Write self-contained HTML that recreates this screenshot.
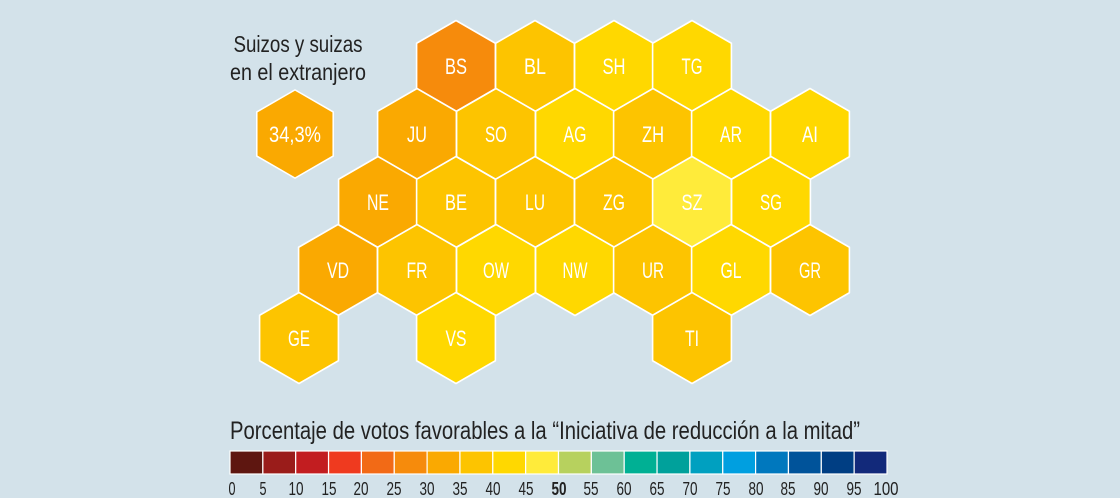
<!DOCTYPE html>
<html><head><meta charset="utf-8"><style>
html,body{margin:0;padding:0;background:#d3e2ea;}
svg{display:block;font-family:"Liberation Sans Narrow","Liberation Sans",sans-serif;}
</style></head><body>
<svg width="1120" height="498" viewBox="0 0 1120 498" xmlns="http://www.w3.org/2000/svg">
<rect width="1120" height="498" fill="#d3e2ea"/>
<defs>
<polygon id="h" points="0,-45.5 39.4,-22.75 39.4,22.75 0,45.5 -39.4,22.75 -39.4,-22.75" stroke="#fff" stroke-width="1.6" stroke-linejoin="round"/>
</defs>
<g>
<use href="#h" x="295" y="134" fill="#faa901" transform="translate(295,134) scale(0.97) translate(-295,-134)"/>
<use href="#h" x="456" y="66" fill="#f68b0c"/>
<use href="#h" x="535" y="66" fill="#fdc400"/>
<use href="#h" x="614" y="66" fill="#ffd800"/>
<use href="#h" x="692" y="66" fill="#ffd800"/>
<use href="#h" x="417" y="134" fill="#faa901"/>
<use href="#h" x="496" y="134" fill="#fdc400"/>
<use href="#h" x="575" y="134" fill="#ffd800"/>
<use href="#h" x="653" y="134" fill="#fdc400"/>
<use href="#h" x="731" y="134" fill="#ffd800"/>
<use href="#h" x="810" y="134" fill="#ffd800"/>
<use href="#h" x="378" y="202" fill="#faa901"/>
<use href="#h" x="456" y="202" fill="#fdc400"/>
<use href="#h" x="535" y="202" fill="#fdc400"/>
<use href="#h" x="614" y="202" fill="#fdc400"/>
<use href="#h" x="692" y="202" fill="#ffeb3a"/>
<use href="#h" x="771" y="202" fill="#ffd800"/>
<use href="#h" x="338" y="270" fill="#faa901"/>
<use href="#h" x="417" y="270" fill="#fdc400"/>
<use href="#h" x="496" y="270" fill="#ffd800"/>
<use href="#h" x="575" y="270" fill="#ffd800"/>
<use href="#h" x="653" y="270" fill="#fdc400"/>
<use href="#h" x="731" y="270" fill="#ffd800"/>
<use href="#h" x="810" y="270" fill="#fdc400"/>
<use href="#h" x="299" y="338" fill="#fdc400"/>
<use href="#h" x="456" y="338" fill="#ffd800"/>
<use href="#h" x="692" y="338" fill="#fdc400"/>
</g>
<g fill="#fff" font-size="22" text-anchor="middle" lengthAdjust="spacingAndGlyphs">
<text x="295" y="142" textLength="52" lengthAdjust="spacingAndGlyphs">34,3%</text>
<text x="456" y="74" textLength="22" lengthAdjust="spacingAndGlyphs">BS</text><text x="535" y="74" textLength="22" lengthAdjust="spacingAndGlyphs">BL</text><text x="614" y="74" textLength="23" lengthAdjust="spacingAndGlyphs">SH</text><text x="692" y="74" textLength="21" lengthAdjust="spacingAndGlyphs">TG</text>
<text x="417" y="142" textLength="20" lengthAdjust="spacingAndGlyphs">JU</text><text x="496" y="142" textLength="22" lengthAdjust="spacingAndGlyphs">SO</text><text x="575" y="142" textLength="23" lengthAdjust="spacingAndGlyphs">AG</text><text x="653" y="142" textLength="22" lengthAdjust="spacingAndGlyphs">ZH</text><text x="731" y="142" textLength="22" lengthAdjust="spacingAndGlyphs">AR</text><text x="810" y="142" textLength="16" lengthAdjust="spacingAndGlyphs">AI</text>
<text x="378" y="210" textLength="22" lengthAdjust="spacingAndGlyphs">NE</text><text x="456" y="210" textLength="22" lengthAdjust="spacingAndGlyphs">BE</text><text x="535" y="210" textLength="20" lengthAdjust="spacingAndGlyphs">LU</text><text x="614" y="210" textLength="22" lengthAdjust="spacingAndGlyphs">ZG</text><text x="692" y="210" textLength="21" lengthAdjust="spacingAndGlyphs">SZ</text><text x="771" y="210" textLength="22" lengthAdjust="spacingAndGlyphs">SG</text>
<text x="338" y="278" textLength="22" lengthAdjust="spacingAndGlyphs">VD</text><text x="417" y="278" textLength="21" lengthAdjust="spacingAndGlyphs">FR</text><text x="496" y="278" textLength="26" lengthAdjust="spacingAndGlyphs">OW</text><text x="575" y="278" textLength="25" lengthAdjust="spacingAndGlyphs">NW</text><text x="653" y="278" textLength="22" lengthAdjust="spacingAndGlyphs">UR</text><text x="731" y="278" textLength="21" lengthAdjust="spacingAndGlyphs">GL</text><text x="810" y="278" textLength="22" lengthAdjust="spacingAndGlyphs">GR</text>
<text x="299" y="346" textLength="22" lengthAdjust="spacingAndGlyphs">GE</text><text x="456" y="346" textLength="21" lengthAdjust="spacingAndGlyphs">VS</text><text x="692" y="346" textLength="14" lengthAdjust="spacingAndGlyphs">TI</text>
</g>
<g fill="#222" font-size="23" text-anchor="middle">
<text x="298" y="52" textLength="129" lengthAdjust="spacingAndGlyphs">Suizos y suizas</text>
<text x="298" y="80" textLength="136" lengthAdjust="spacingAndGlyphs">en el extranjero</text>
</g>
<text x="230" y="439" font-size="25" fill="#222" textLength="630" lengthAdjust="spacingAndGlyphs">Porcentaje de votos favorables a la “Iniciativa de reducción a la mitad”</text>
<g stroke="#fff" stroke-width="1.2">
<rect x="230" y="451" width="32.85" height="23" fill="#5e1610"/>
<rect x="262.85" y="451" width="32.85" height="23" fill="#9a1c1a"/>
<rect x="295.7" y="451" width="32.85" height="23" fill="#c21d20"/>
<rect x="328.55" y="451" width="32.85" height="23" fill="#ef3a1f"/>
<rect x="361.4" y="451" width="32.85" height="23" fill="#f26a16"/>
<rect x="394.25" y="451" width="32.85" height="23" fill="#f68b0c"/>
<rect x="427.1" y="451" width="32.85" height="23" fill="#faa901"/>
<rect x="459.95" y="451" width="32.85" height="23" fill="#fdc400"/>
<rect x="492.8" y="451" width="32.85" height="23" fill="#ffd800"/>
<rect x="525.65" y="451" width="32.85" height="23" fill="#ffeb3a"/>
<rect x="558.5" y="451" width="32.85" height="23" fill="#b7d15e"/>
<rect x="591.35" y="451" width="32.85" height="23" fill="#6dc196"/>
<rect x="624.2" y="451" width="32.85" height="23" fill="#00b094"/>
<rect x="657.05" y="451" width="32.85" height="23" fill="#00a19b"/>
<rect x="689.9" y="451" width="32.85" height="23" fill="#00a0c0"/>
<rect x="722.75" y="451" width="32.85" height="23" fill="#009fe0"/>
<rect x="755.6" y="451" width="32.85" height="23" fill="#0078be"/>
<rect x="788.45" y="451" width="32.85" height="23" fill="#00539a"/>
<rect x="821.3" y="451" width="32.85" height="23" fill="#003e83"/>
<rect x="854.15" y="451" width="32.85" height="23" fill="#12297a"/>
</g>
<g fill="#222" font-size="18" text-anchor="middle">
<text x="232" y="495" textLength="7" lengthAdjust="spacingAndGlyphs">0</text><text x="263" y="495" textLength="7" lengthAdjust="spacingAndGlyphs">5</text><text x="296" y="495" textLength="15" lengthAdjust="spacingAndGlyphs">10</text><text x="329" y="495" textLength="15" lengthAdjust="spacingAndGlyphs">15</text><text x="361" y="495" textLength="15" lengthAdjust="spacingAndGlyphs">20</text><text x="394" y="495" textLength="15" lengthAdjust="spacingAndGlyphs">25</text><text x="427" y="495" textLength="15" lengthAdjust="spacingAndGlyphs">30</text><text x="460" y="495" textLength="15" lengthAdjust="spacingAndGlyphs">35</text><text x="493" y="495" textLength="15" lengthAdjust="spacingAndGlyphs">40</text><text x="526" y="495" textLength="15" lengthAdjust="spacingAndGlyphs">45</text><text x="559" y="495" font-weight="bold" textLength="15" lengthAdjust="spacingAndGlyphs">50</text><text x="591" y="495" textLength="15" lengthAdjust="spacingAndGlyphs">55</text><text x="624" y="495" textLength="15" lengthAdjust="spacingAndGlyphs">60</text><text x="657" y="495" textLength="15" lengthAdjust="spacingAndGlyphs">65</text><text x="690" y="495" textLength="15" lengthAdjust="spacingAndGlyphs">70</text><text x="723" y="495" textLength="15" lengthAdjust="spacingAndGlyphs">75</text><text x="756" y="495" textLength="15" lengthAdjust="spacingAndGlyphs">80</text><text x="788" y="495" textLength="15" lengthAdjust="spacingAndGlyphs">85</text><text x="821" y="495" textLength="15" lengthAdjust="spacingAndGlyphs">90</text><text x="854" y="495" textLength="15" lengthAdjust="spacingAndGlyphs">95</text><text x="886" y="495" textLength="25" lengthAdjust="spacingAndGlyphs">100</text>
</g>
</svg>
</body></html>
